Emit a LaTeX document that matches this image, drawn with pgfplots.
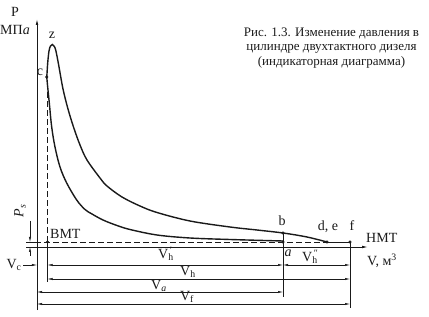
\documentclass[border=0pt]{standalone}
\usepackage{fontspec}
\setmainfont{Liberation Serif}
\usepackage{pgfplots}
\pgfplotsset{compat=1.18}
\usetikzlibrary{arrows.meta}
\definecolor{ink}{HTML}{1A1A1A}
\begin{document}
\begin{tikzpicture}[
  dim/.style={ink, line width=0.5bp},
  arr/.style={-{Latex[length=5bp,width=2.2bp]}},
  lab/.style={font=\fontsize{14bp}{16bp}\selectfont, text=ink, inner sep=0pt},
]
\begin{axis}[x=1bp, y=1bp, xmin=-37, xmax=392, ymin=-70, ymax=247,
  hide axis, clip=false]
\coordinate (SW) at (axis cs:-37,-70);
\coordinate (NE) at (axis cs:392,247);

% axes
\draw[ink, line width=0.8bp, -{Latex[length=6bp,width=2.6bp]}] (axis cs:0,-63) -- (axis cs:0,228);
\draw[ink, line width=0.8bp, -{Latex[length=6bp,width=2.6bp]}] (axis cs:-11,0) -- (axis cs:331,0);
% suction pressure line
\draw[ink, line width=0.7bp, dash pattern=on 6bp off 3bp] (axis cs:-11,5) -- (axis cs:290,5);
\draw[ink, line width=0.7bp] (axis cs:290,5) -- (axis cs:313,5);
% BMT vertical
\draw[ink, line width=0.7bp, dash pattern=on 6bp off 3bp] (axis cs:10.5,5) -- (axis cs:10.5,166);
\draw[dim] (axis cs:10.5,5) -- (axis cs:10.5,-35);
% a-b vertical and f vertical
\draw[dim] (axis cs:246,14) -- (axis cs:246,-50);
\draw[dim] (axis cs:313,5) -- (axis cs:313,-61);

% expansion curve (c - z - b - d,e)
\addplot[ink, line width=1.4bp, smooth, tension=0.55] coordinates {
(9.8,170) (10.7,184) (12,196) (13.5,201) (15.3,202.5) (17,201) (18.7,197)
(21.3,184) (26,158) (31,138) (36.5,120) (43,102) (50,87) (63,69) (70,61)
(85,50) (103,41) (120,34.5) (153,26) (193,20) (220,17) (246,14) (270,10) (290,5)};
% compression curve (a - c)
\addplot[ink, line width=1.4bp, smooth, tension=0.55] coordinates {
(246,6) (193,7.5) (153,9) (120,12) (93,17.5) (80,21.5) (66,27) (55,33)
(48,37.5) (39.7,47) (29.7,64) (23,80) (18,100) (14.7,120) (12.3,144)
(10.3,164) (9.8,170)};
% characteristic points
\addplot[only marks, mark=*, mark size=1.4bp, ink] coordinates {
(9.8,170) (10.5,5) (246,14) (246,5) (290,5) (313,5)};

% P_s marks
\draw[dim] (axis cs:-11,5) -- (axis cs:0,5);
\draw[dim, arr] (axis cs:-7,26) -- (axis cs:-7,5);
\draw[dim, arr] (axis cs:-7,-9) -- (axis cs:-7,0);
\node[lab, rotate=90] at (axis cs:-17,36) {\textit{P}\textsubscript{\textit{s}}};

% dimension lines
\draw[dim, arr] (axis cs:-14,-18) -- (axis cs:0,-18);
\draw[dim, {Latex[length=5bp,width=2.2bp]}-{Latex[length=5bp,width=2.2bp]}] (axis cs:10.5,-18) -- (axis cs:246,-18);
\draw[dim, {Latex[length=5bp,width=2.2bp]}-{Latex[length=5bp,width=2.2bp]}] (axis cs:246,-18) -- (axis cs:313,-18);
\draw[dim, {Latex[length=5bp,width=2.2bp]}-{Latex[length=5bp,width=2.2bp]}] (axis cs:10.5,-32) -- (axis cs:313,-32);
\draw[dim, {Latex[length=5bp,width=2.2bp]}-{Latex[length=5bp,width=2.2bp]}] (axis cs:0,-45) -- (axis cs:246,-45);
\draw[dim, {Latex[length=5bp,width=2.2bp]}-{Latex[length=5bp,width=2.2bp]}] (axis cs:0,-57) -- (axis cs:313,-57);

% labels
\node[lab] at (axis cs:-22,235) {P};
\node[lab] at (axis cs:-22,217) {МП\textit{a}};
\node[lab] at (axis cs:15,212) {z};
\node[lab] at (axis cs:3,175) {c};
\node[lab, anchor=west] at (axis cs:13,13) {ВМТ};
\node[lab] at (axis cs:245,26) {b};
\node[lab] at (axis cs:291,20) {d, e};
\node[lab] at (axis cs:315,21) {f};
\node[lab, anchor=west] at (axis cs:329,9) {НМТ};
\node[lab, anchor=west] at (axis cs:330,-14) {V, м\textsuperscript{3}};
\node[lab] at (axis cs:251,-6) {\textit{a}};
\node[lab] at (axis cs:-23,-18) {V\textsubscript{c}};
\node[lab] at (axis cs:129,-7) {V\rlap{\textsuperscript{\,′}}\textsubscript{h}};
\node[lab] at (axis cs:273,-10) {V\rlap{\textsuperscript{\,″}}\textsubscript{h}};
\node[lab] at (axis cs:151,-25) {V\textsubscript{h}};
\node[lab] at (axis cs:122,-39) {V\textsubscript{\textit{a}}};
\node[lab] at (axis cs:150,-50) {V\textsubscript{f}};
\node[lab, align=center, font=\fontsize{13bp}{14.5bp}\selectfont] at (axis cs:294.5,199)
  {Рис. 1.3. Изменение давления в\\цилиндре двухтактного дизеля\\(индикаторная диаграмма)};
\end{axis}
\pgfresetboundingbox
\useasboundingbox (SW) rectangle (NE);
\end{tikzpicture}
\end{document}
